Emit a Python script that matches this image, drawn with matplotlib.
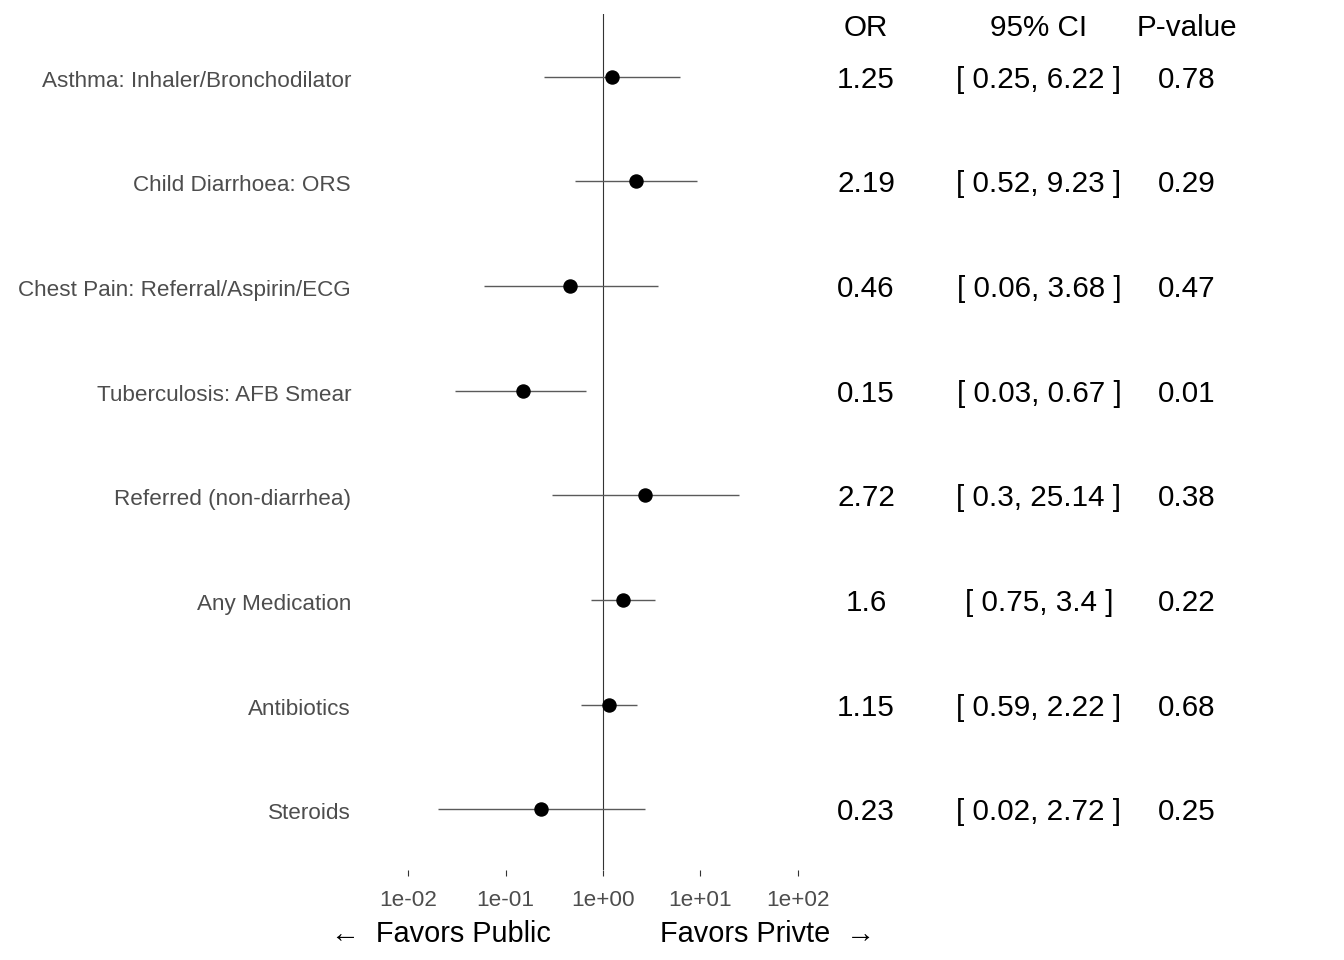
import numpy as np
import matplotlib
matplotlib.use("Agg")
import matplotlib.pyplot as plt
from matplotlib.transforms import blended_transform_factory, ScaledTranslation

plt.rcParams['font.family'] = ['Liberation Sans', 'DejaVu Sans']

labels = ["Asthma: Inhaler/Bronchodilator", "Child Diarrhoea: ORS",
          "Chest Pain: Referral/Aspirin/ECG", "Tuberculosis: AFB Smear",
          "Referred (non-diarrhea)", "Any Medication", "Antibiotics", "Steroids"]
odds = [1.25, 2.19, 0.46, 0.15, 2.72, 1.6, 1.15, 0.23]
ci_low = [0.25, 0.52, 0.06, 0.03, 0.3, 0.75, 0.59, 0.02]
ci_high = [6.22, 9.23, 3.68, 0.67, 25.14, 3.4, 2.22, 2.72]
pvals = [0.78, 0.29, 0.47, 0.01, 0.38, 0.22, 0.68, 0.25]
xticks = [1e-2, 1e-1, 1e0, 1e1, 1e2]
xticklabels = ["1e-02", "1e-01", "1e+00", "1e+01", "1e+02"]

W, H = 1344, 960
fig = plt.figure(figsize=(W / 100, H / 100), dpi=100)
ax = fig.add_axes([365 / W, 1 - 870 / H, (840 - 365) / W, (870 - 14) / H])

n = len(labels)
ypos = np.arange(1, n + 1)

ax.axvline(1, color="#333333", lw=0.8, zorder=1)
ax.hlines(ypos, ci_low, ci_high, color="#5a5a5a", lw=1.0, zorder=2)
ax.plot(odds, ypos, "o", color="black", ms=9.4, zorder=3)

ax.set_xscale("log")
ax.set_xlim(10 ** -2.446, 10 ** 2.436)
ax.set_ylim(n + 0.58, 0.4)
ax.set_xticks(xticks)
ax.set_xticklabels(xticklabels)
ax.minorticks_off()
ax.set_yticks(ypos)
ax.set_yticklabels(labels)
ax.tick_params(axis="x", length=4.3, width=0.8, color="#333333", pad=10,
               labelsize=16.2, labelcolor="#4D4D4D")
ax.tick_params(axis="y", length=0, pad=10, labelsize=16.2, labelcolor="#4D4D4D")
for lab in ax.get_yticklabels():
    lab.set_transform(lab.get_transform() + ScaledTranslation(0, -2 / 100, fig.dpi_scale_trans))
for s in ax.spines.values():
    s.set_visible(False)

tr = blended_transform_factory(fig.transFigure, ax.transData) + \
    ScaledTranslation(0, -3 / 100, fig.dpi_scale_trans)
col_or, col_ci, col_p = 866 / W, 1039 / W, 1187 / W
fs = 21.3
for i in range(n):
    y = ypos[i]
    ax.text(col_or, y, f"{odds[i]:g}", transform=tr, ha="center", va="center",
            fontsize=fs, color="black")
    ax.text(col_ci, y, f"[ {ci_low[i]:g}, {ci_high[i]:g} ]", transform=tr,
            ha="center", va="center", fontsize=fs, color="black")
    ax.text(col_p, y, f"{pvals[i]:.2f}", transform=tr, ha="center", va="center",
            fontsize=fs, color="black")

hy = 1 - 28 / H
fig.text(col_or, hy, "OR", ha="center", va="center", fontsize=fs)
fig.text(col_ci, hy, "95% CI", ha="center", va="center", fontsize=fs)
fig.text(col_p, hy, "P-value", ha="center", va="center", fontsize=fs)

fy = 1 - 934 / H
fig.text(441 / W, fy, "\u2190  Favors Public", ha="center", va="center", fontsize=20.8)
fig.text(768 / W, fy, "Favors Privte  \u2192", ha="center", va="center", fontsize=20.8)

fig.savefig("out.png", dpi=100, facecolor="white")
